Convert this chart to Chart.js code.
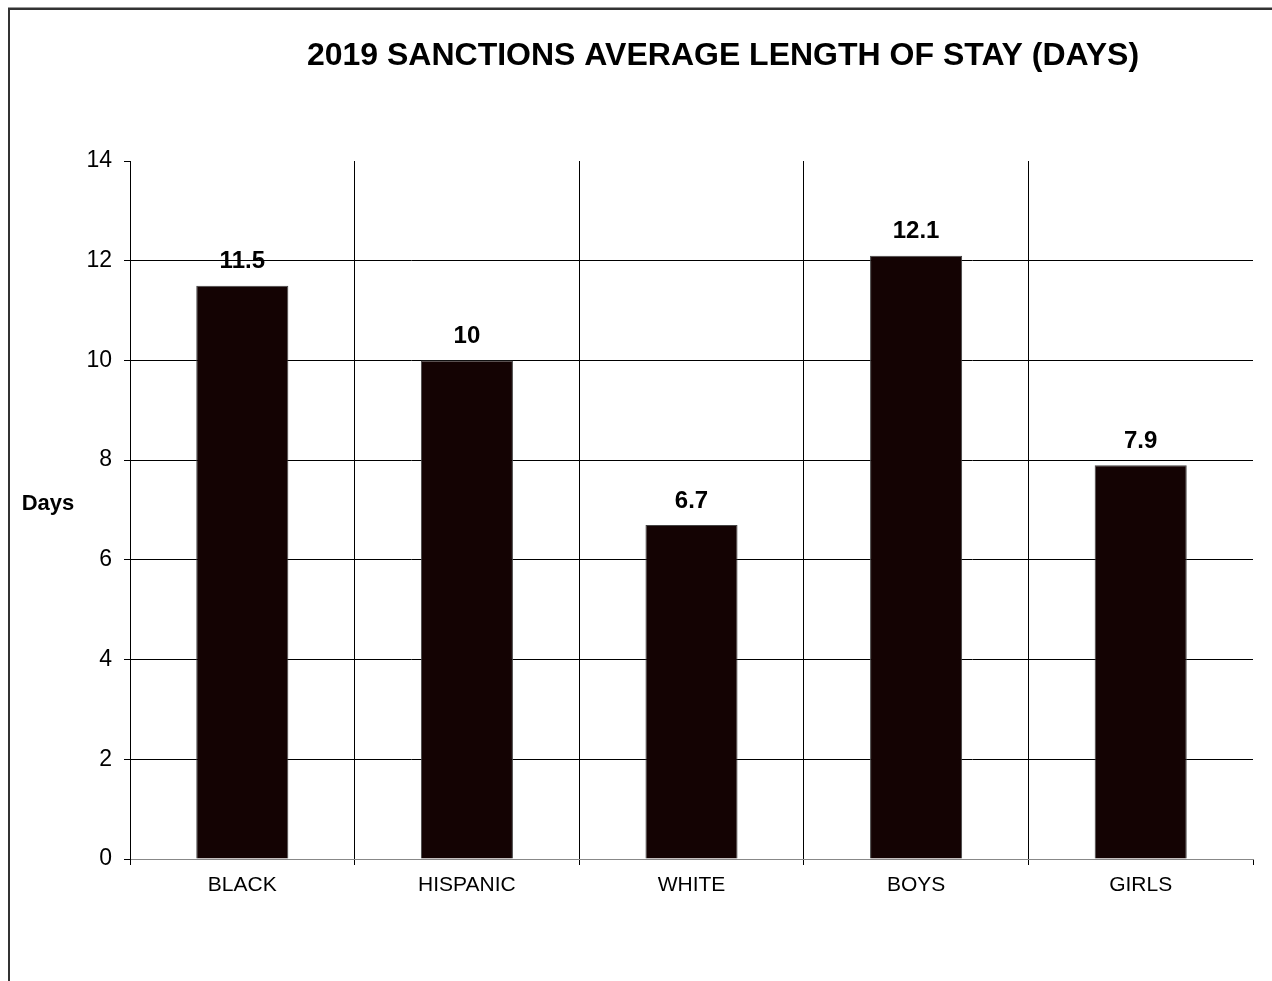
<!DOCTYPE html>
<html>
<head>
<meta charset="utf-8">
<script src="https://cdn.jsdelivr.net/npm/chart.js@4.4.1/dist/chart.umd.min.js"></script>
<style>
  html, body { margin: 0; padding: 0; background: #fff; }
  #wrap { position: absolute; left: 0; top: 0; width: 1272px; height: 981px; }
</style>
</head>
<body>
<div id="wrap"><canvas id="myChart" width="1272" height="981"></canvas></div>
<script>
const categories = ['BLACK', 'HISPANIC', 'WHITE', 'BOYS', 'GIRLS'];
const avgDays = [11.5, 10, 6.7, 12.1, 7.9];
const chartTitle = '2019 SANCTIONS AVERAGE LENGTH OF STAY (DAYS)';
const yLabel = 'Days';
const FONT = '"Liberation Sans", Arial, sans-serif';

// frame, title, axis label and values on top of bars
const decorations = {
    id: 'decorations',
    beforeDraw(chart) {
        const c = chart.ctx;
        c.save();
        c.fillStyle = '#fff';
        c.fillRect(0, 0, chart.width, chart.height);
        c.fillStyle = '#999';
        c.fillRect(8, 7, chart.width, 1);
        c.fillStyle = '#333';
        c.fillRect(8, 8, chart.width, 2);
        c.fillRect(8, 8, 2, chart.height);
        c.restore();
    },
    afterDraw(chart) {
        const c = chart.ctx;
        c.save();
        c.fillStyle = '#000';
        c.textAlign = 'center';
        c.textBaseline = 'middle';
        c.font = 'bold 32px ' + FONT;
        c.fillText(chartTitle, 723, 56);
        c.font = 'bold 22px ' + FONT;
        c.fillText(yLabel, 48, 504);
        c.font = 'bold 24px ' + FONT;
        const meta = chart.getDatasetMeta(0);
        meta.data.forEach((bar, i) => {
            c.fillText(String(avgDays[i]), bar.x, bar.y - 24);
        });
        c.restore();
    }
};

const ctx = document.getElementById('myChart').getContext('2d');
const myChart = new Chart(ctx, {
    type: 'bar',
    data: {
        labels: categories,
        datasets: [{
            data: avgDays,
            backgroundColor: '#140303',
            borderColor: '#444',
            borderWidth: 1,
            barPercentage: 0.41,
            categoryPercentage: 1
        }]
    },
    options: {
        responsive: false,
        animation: false,
        layout: { padding: { left: 0, right: 19, top: 161, bottom: 0 } },
        plugins: { legend: { display: false }, tooltip: { enabled: false } },
        scales: {
            x: {
                afterFit: s => { s.height = 122; },
                grid: {
                    // last offset line (right edge) has scale context, no tick
                    color: c => (c.type === 'tick' ? '#000' : 'rgba(0,0,0,0)'),
                    tickColor: '#000',
                    lineWidth: 1,
                    tickLength: 6,
                    offset: true
                },
                border: { color: '#888', width: 1 },
                ticks: { color: '#000', padding: 8, font: { family: FONT, size: 21 } }
            },
            y: {
                min: 0,
                max: 14,
                afterFit: s => { s.width = 130; },
                grid: {
                    color: c => (c.tick && c.tick.value === 14 ? 'rgba(0,0,0,0)' : '#000'),
                    tickColor: '#000',
                    lineWidth: 1,
                    tickLength: 6
                },
                border: { color: '#000', width: 1 },
                ticks: { stepSize: 2, color: '#000', padding: 12, font: { family: FONT, size: 23 } }
            }
        }
    },
    plugins: [decorations]
});
</script>
</body>
</html>
